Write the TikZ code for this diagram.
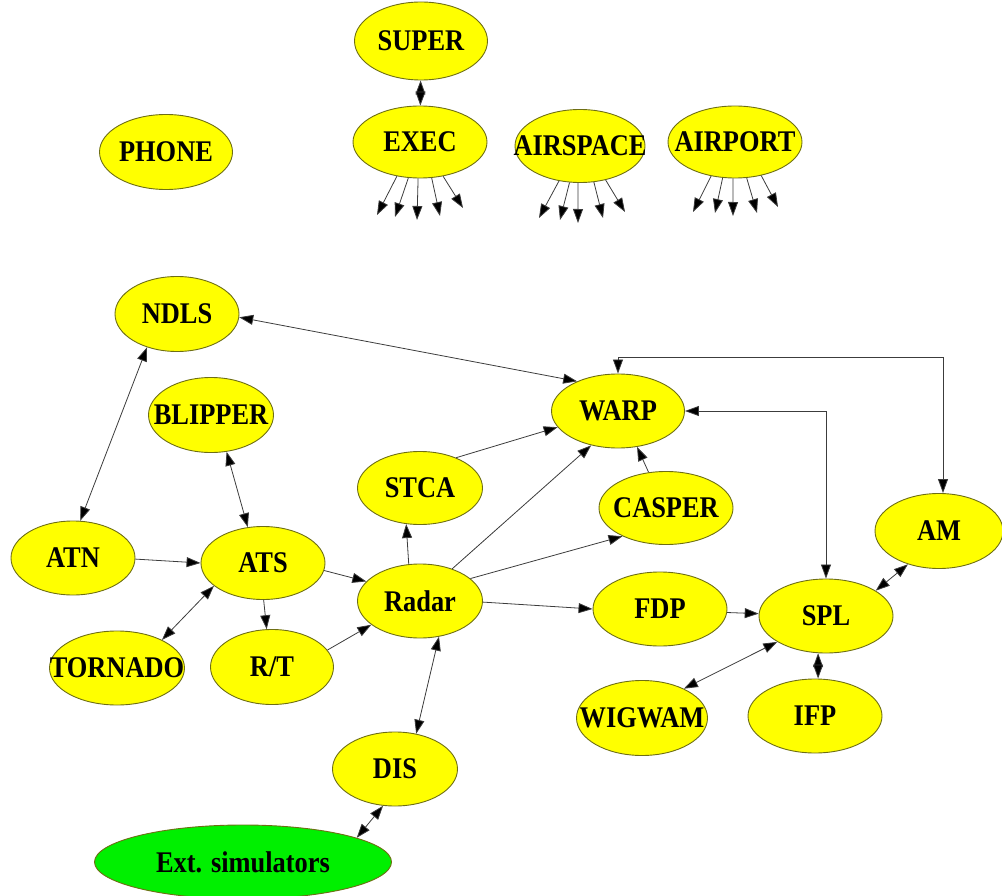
\documentclass[tikz,border=0pt]{standalone}
\usepackage{fontspec}
\setmainfont{Liberation Serif}[FakeStretch=0.88]
\usetikzlibrary{shapes.geometric,arrows.meta}
\definecolor{nodefill}{RGB}{255,255,0}
\definecolor{extfill}{RGB}{0,240,0}
\definecolor{nodeline}{RGB}{110,110,20}
\definecolor{edgeline}{RGB}{60,60,60}
\tikzset{
  el/.style={ellipse, draw=nodeline, line width=0.9pt, fill=nodefill, inner sep=0pt,
    minimum width=133pt, minimum height=74pt, font=\fontsize{30}{32}\selectfont\bfseries},
  tip/.tip={Triangle[length=14pt,width=10pt]},
  edge1/.style={draw=edgeline, line width=0.8pt, -{tip[fill=black]}},
  edge2/.style={draw=edgeline, line width=0.8pt, {tip[fill=black]}-{tip[fill=black]}},
}
\newcommand{\lbl}[1]{\makebox[0pt][c]{#1}}
\begin{document}
\begin{tikzpicture}[x=1pt,y=-1pt]
\useasboundingbox (0,0) rectangle (1002,896);
% top group
\node[el, minimum height=78pt] (super) at (421,41) {\lbl{SUPER}};
\node[el, minimum width=134pt, minimum height=72pt] (exec) at (420,142) {\lbl{EXEC}};
\node[el, minimum width=130pt, minimum height=73pt] (airspace) at (580,146) {\lbl{AIRSPACE}};
\node[el, minimum width=134pt, minimum height=72pt] (airport) at (735,142) {\lbl{AIRPORT}};
\node[el, minimum height=75pt] (phone) at (166,152) {\lbl{PHONE}};
% main graph
\node[el, minimum width=124pt, minimum height=75pt] (ndls) at (177,314) {\lbl{NDLS}};
\node[el, minimum width=125pt, minimum height=75pt] (blipper) at (211,415) {\lbl{BLIPPER}};
\node[el, minimum width=125pt, minimum height=73pt] (stca) at (420,488) {\lbl{STCA}};
\node[el, minimum width=124pt, minimum height=74pt] (atn) at (73,558) {\lbl{ATN}};
\node[el, minimum width=124pt, minimum height=73pt] (ats) at (263,563) {\lbl{ATS}};
\node[el, minimum width=125pt, minimum height=74pt] (radar) at (420,601) {\lbl{Radar}};
\node[el, minimum width=135pt, minimum height=74pt] (tornado) at (117,668) {\lbl{TORNADO}};
\node[el, minimum width=123pt, minimum height=75pt] (rt) at (272,667) {\lbl{R/T}};
\node[el, minimum width=133pt, minimum height=74pt] (warp) at (618,411) {\lbl{WARP}};
\node[el, minimum width=134pt, minimum height=73pt] (casper) at (666,508) {\lbl{CASPER}};
\node[el, minimum width=128pt, minimum height=75pt] (am) at (939,531) {\lbl{AM}};
\node[el, minimum width=134pt, minimum height=74pt] (fdp) at (660,609) {\lbl{FDP}};
\node[el, minimum width=134pt, minimum height=74pt] (spl) at (826,616) {\lbl{SPL}};
\node[el, minimum width=131pt, minimum height=75pt] (wigwam) at (642,718) {\lbl{WIGWAM}};
\node[el, minimum width=134pt, minimum height=74pt] (ifp) at (815,716) {\lbl{IFP}};
\node[el, minimum width=125pt, minimum height=74pt] (dis) at (395,769) {\lbl{DIS}};
\node[el, fill=extfill, minimum width=297pt, minimum height=74pt] (ext) at (243,862) {\lbl{Ext. simulators}};
% free ends of the stub arrows
\coordinate (e1) at (377,215); \coordinate (e2) at (395,217); \coordinate (e3) at (417,220);
\coordinate (e4) at (440,216); \coordinate (e5) at (463,208);
\coordinate (s1) at (539,218); \coordinate (s2) at (560,220); \coordinate (s3) at (578,223);
\coordinate (s4) at (603,218); \coordinate (s5) at (625,212);
\coordinate (p1) at (693,212); \coordinate (p2) at (715,213); \coordinate (p3) at (733,216);
\coordinate (p4) at (757,213); \coordinate (p5) at (778,207);
\coordinate (amtop) at (943,357);
% top edges
\draw[edge2] (super) -- (exec);
\draw[edge1] (exec.236) -- (e1);
\draw[edge1] (exec.252) -- (e2);
\draw[edge1] (exec.267) -- (e3);
\draw[edge1] (exec.288) -- (e4);
\draw[edge1] (exec.304) -- (e5);
\draw[edge1] (airspace.239) -- (s1);
\draw[edge1] (airspace.254) -- (s2);
\draw[edge1] (airspace.267) -- (s3);
\draw[edge1] (airspace.291) -- (s4);
\draw[edge1] (airspace.307) -- (s5);
\draw[edge1] (airport.235) -- (p1);
\draw[edge1] (airport.251) -- (p2);
\draw[edge1] (airport.267) -- (p3);
\draw[edge1] (airport.288) -- (p4);
\draw[edge1] (airport.308) -- (p5);
% main edges
\draw[edge2] (ndls.228) -- (atn.79);
\draw[edge2] (ndls.357) -- (warp.144);
\draw[edge2] (blipper.293) -- (ats.113);
\draw[edge1] (atn.359) -- (ats.180);
\draw[edge1] (ats.353) -- (radar.160);
\draw[edge1] (ats.271) -- (rt.98);
\draw[edge2] (ats.205) -- (tornado.32);
\draw[edge1] (rt.17) -- (radar.206);
\draw[edge1] (radar.107) -- (stca.249);
\draw[edge1] (stca.40) -- (warp.195);
\draw[edge1] (radar.45) -- (warp.232);
\draw[edge1] (radar.24) -- (casper.213);
\draw[edge1] (casper.116) -- (warp.298);
\draw[edge1] (radar.359) -- (fdp.180);
\draw[edge1] (fdp.357) -- (spl.178);
\draw[edge2] (spl.27) -- (am.227);
\draw[edge2] (spl.208) -- (wigwam.35);
\draw[edge2] (spl.258) -- (spl.258 |- ifp.north);
\draw[edge2] (radar.298) -- (dis.59);
\draw[edge2] (dis.252) -- (ext.12);
\draw[edge2] (warp.east) -| (spl.north);
\draw[edge2] (warp.north) |- (amtop) -- (amtop |- am.north);
\end{tikzpicture}
\end{document}
